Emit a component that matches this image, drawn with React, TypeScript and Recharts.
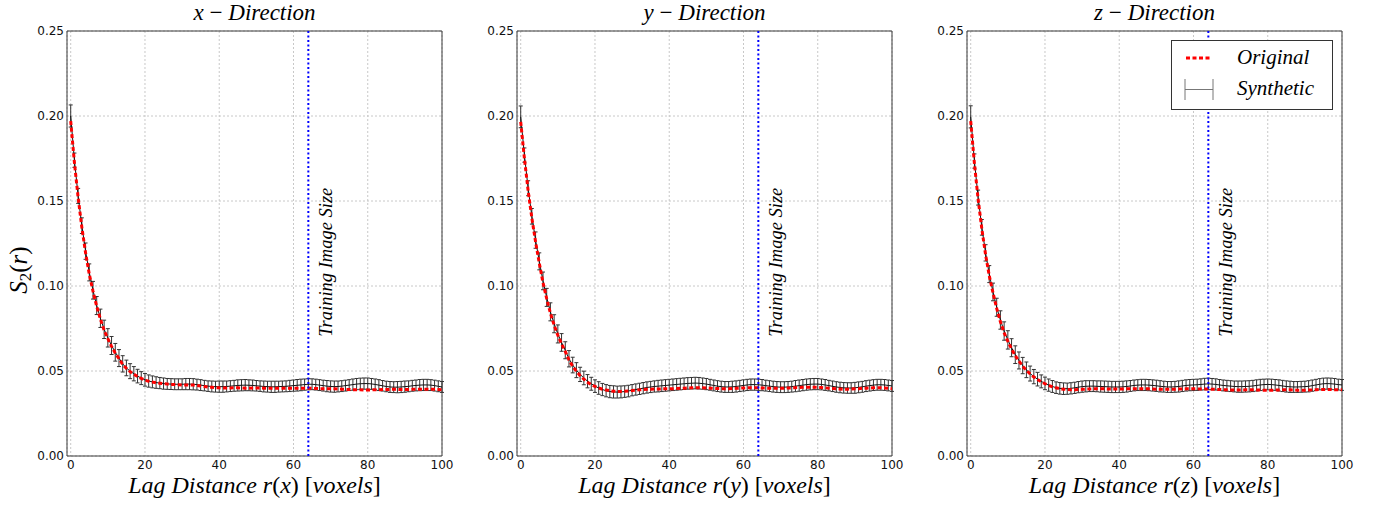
import React from "react";
import {
  CartesianGrid,
  ComposedChart,
  ErrorBar,
  Line,
  ReferenceArea,
  ReferenceLine,
  XAxis,
  YAxis
} from "recharts";

// lag distance r = 0..100 voxels
const lags: number[] = Array.from({ length: 101 }, (_, i) => i);
const xTicks = [0, 20, 40, 60, 80, 100];
const yTicks = [0, 0.05, 0.1, 0.15, 0.2, 0.25];
const trainingSize = 64;

// all S2 values below are in units of 1e-3
const origX = [
  197, 172.5, 152, 134.5, 119.5, 107, 97, 88, 80.5, 74,
  69, 64.5, 60.5, 57.3, 53.8, 51.5, 49.6, 48.1, 46.8, 45.6,
  44.6, 44.0, 43.5, 43.1, 42.8, 42.5, 42.3, 42.1, 42.0, 41.9,
  41.8, 41.8, 41.8, 41.7, 41.5, 41.2, 40.9, 40.6, 40.4, 40.2,
  40.1, 40.0, 40.0, 40.0, 40.1, 40.1, 40.0, 39.9, 39.9, 40.0,
  40.0, 40.0, 39.9, 39.8, 39.8, 39.8, 39.9, 39.9, 39.9, 39.8,
  39.8, 39.8, 39.8, 39.9, 39.9, 39.8, 39.7, 39.6, 39.6, 39.6,
  39.6, 39.5, 39.4, 39.3, 39.2, 39.1, 39.0, 38.9, 38.9, 38.8,
  38.8, 38.9, 39.0, 39.0, 39.1, 39.1, 39.2, 39.2, 39.2, 39.1,
  39.1, 39.1, 39.2, 39.2, 39.3, 39.3, 39.3, 39.2, 39.2, 39.1,
  39.0
];
const synX = [
  200, 174, 153, 135.5, 120.5, 108, 97.5, 88.5, 81, 74.5,
  69.5, 65, 61, 57.6, 54.2, 51.8, 49.9, 48.4, 47.0, 45.8,
  44.8, 44.1, 43.6, 43.2, 42.9, 42.6, 42.4, 42.3, 42.2, 42.2,
  42.2, 42.3, 42.3, 42.2, 42.0, 41.7, 41.4, 41.1, 40.9, 40.8,
  40.8, 40.8, 40.9, 41.1, 41.3, 41.5, 41.6, 41.7, 41.6, 41.5,
  41.3, 41.1, 40.9, 40.8, 40.7, 40.7, 40.8, 40.9, 41.0, 41.2,
  41.4, 41.6, 41.8, 42.0, 42.2, 42.2, 42.0, 41.7, 41.4, 41.1,
  40.9, 40.8, 40.9, 41.1, 41.4, 41.7, 42.0, 42.3, 42.5, 42.6,
  42.6, 42.4, 42.1, 41.7, 41.3, 40.9, 40.6, 40.5, 40.5, 40.6,
  40.8, 41.0, 41.3, 41.5, 41.7, 41.8, 41.8, 41.7, 41.4, 41.0,
  40.6
];
const errX = [
  6.5, 4.2, 4.4, 4.6, 4.8, 5.0, 5.2, 5.3, 5.4, 5.4,
  5.4, 5.3, 5.2, 5.0, 4.8, 4.6, 4.4, 4.2, 4.0, 3.8,
  3.7, 3.6, 3.5, 3.4, 3.3, 3.3, 3.2, 3.2, 3.2, 3.2,
  3.2, 3.3, 3.3, 3.3, 3.2, 3.2, 3.1, 3.1, 3.2, 3.2,
  3.3, 3.3, 3.2, 3.2, 3.2, 3.3, 3.3, 3.3, 3.2, 3.2,
  3.1, 3.1, 3.2, 3.2, 3.3, 3.3, 3.2, 3.2, 3.2, 3.3,
  3.3, 3.4, 3.4, 3.3, 3.3, 3.2, 3.2, 3.2, 3.2, 3.3,
  3.3, 3.3, 3.2, 3.2, 3.2, 3.2, 3.3, 3.3, 3.3, 3.3,
  3.3, 3.2, 3.2, 3.2, 3.1, 3.1, 3.2, 3.2, 3.3, 3.3,
  3.3, 3.2, 3.2, 3.2, 3.3, 3.3, 3.3, 3.2, 3.2, 3.2,
  3.2
];

const origY = [
  196.5, 175, 156, 140, 126, 113.5, 102, 92.5, 84, 77,
  71, 66, 61.5, 56.5, 52.8, 49.8, 47.3, 45.2, 43.4, 42.0,
  40.9, 40.0, 39.3, 38.8, 38.4, 38.1, 38.0, 38.0, 38.1, 38.3,
  38.5, 38.7, 38.9, 39.1, 39.2, 39.3, 39.4, 39.4, 39.5, 39.5,
  39.5, 39.6, 39.7, 39.8, 39.9, 40.0, 40.1, 40.2, 40.2, 40.1,
  40.0, 39.9, 39.8, 39.7, 39.6, 39.6, 39.6, 39.7, 39.8, 39.9,
  40.0, 40.1, 40.2, 40.2, 40.1, 40.0, 39.9, 39.8, 39.8, 39.8,
  39.8, 39.9, 40.0, 40.1, 40.2, 40.3, 40.4, 40.5, 40.5, 40.5,
  40.4, 40.3, 40.1, 39.9, 39.7, 39.5, 39.4, 39.3, 39.3, 39.4,
  39.5, 39.6, 39.8, 39.9, 40.0, 40.1, 40.1, 40.1, 40.0, 39.8,
  39.6
];
const synY = [
  199.5, 177, 157.5, 141, 127, 114.5, 103, 93.3, 84.8, 77.8,
  71.8, 66.8, 62.2, 57.2, 53.5, 50.5, 48.0, 45.9, 44.0, 42.5,
  41.1, 40.0, 39.1, 38.4, 37.9, 37.7, 37.6, 37.7, 37.9, 38.2,
  38.7, 39.1, 39.5, 39.9, 40.3, 40.6, 40.9, 41.1, 41.3, 41.5,
  41.7, 41.9, 42.1, 42.3, 42.5, 42.7, 42.8, 42.9, 42.8, 42.6,
  42.3, 41.9, 41.5, 41.1, 40.8, 40.6, 40.6, 40.7, 40.9, 41.2,
  41.5, 41.8, 42.0, 42.0, 41.9, 41.7, 41.4, 41.1, 40.8, 40.6,
  40.5, 40.5, 40.6, 40.8, 41.1, 41.4, 41.7, 42.0, 42.2, 42.3,
  42.3, 42.1, 41.8, 41.4, 41.0, 40.6, 40.3, 40.1, 40.0, 40.0,
  40.1, 40.4, 40.7, 41.1, 41.4, 41.7, 41.9, 41.9, 41.8, 41.5,
  41.2
];
const errY = [
  6.4, 4.2, 4.4, 4.6, 4.8, 5.0, 5.2, 5.3, 5.3, 5.3,
  5.3, 5.2, 5.0, 4.8, 4.6, 4.4, 4.2, 4.0, 3.9, 3.8,
  3.7, 3.7, 3.6, 3.6, 3.6, 3.6, 3.5, 3.5, 3.4, 3.4,
  3.3, 3.3, 3.3, 3.3, 3.3, 3.3, 3.3, 3.4, 3.4, 3.4,
  3.4, 3.4, 3.4, 3.4, 3.4, 3.4, 3.4, 3.4, 3.4, 3.3,
  3.3, 3.2, 3.2, 3.2, 3.2, 3.2, 3.2, 3.3, 3.3, 3.3,
  3.3, 3.3, 3.3, 3.3, 3.3, 3.3, 3.2, 3.2, 3.2, 3.2,
  3.2, 3.2, 3.2, 3.2, 3.3, 3.3, 3.3, 3.3, 3.3, 3.3,
  3.3, 3.2, 3.2, 3.1, 3.1, 3.1, 3.1, 3.1, 3.1, 3.1,
  3.2, 3.2, 3.2, 3.2, 3.2, 3.2, 3.2, 3.2, 3.2, 3.2,
  3.2
];

const origZ = [
  197, 172, 151, 133.5, 118.5, 106, 96, 86.8, 79, 72.5,
  67.5, 63, 59, 55.8, 52.8, 50.4, 48.3, 46.5, 45.0, 43.7,
  42.5, 41.5, 40.7, 40.1, 39.6, 39.3, 39.1, 39.0, 39.0, 39.1,
  39.2, 39.3, 39.4, 39.5, 39.5, 39.5, 39.5, 39.4, 39.4, 39.4,
  39.4, 39.4, 39.5, 39.5, 39.6, 39.6, 39.6, 39.5, 39.5, 39.4,
  39.3, 39.2, 39.2, 39.2, 39.3, 39.3, 39.4, 39.4, 39.5, 39.5,
  39.5, 39.5, 39.4, 39.4, 39.4, 39.3, 39.2, 39.1, 39.0, 38.9,
  38.8, 38.8, 38.8, 38.8, 38.9, 38.9, 38.9, 38.8, 38.8, 38.7,
  38.7, 38.7, 38.8, 38.8, 38.9, 38.9, 38.9, 38.8, 38.7, 38.7,
  38.7, 38.8, 38.9, 39.0, 39.1, 39.1, 39.1, 39.1, 39.0, 39.0,
  39.0
];
const synZ = [
  199.5, 173.5, 152, 134.5, 119.5, 107, 96.5, 87.5, 80, 73.5,
  68.3, 63.7, 59.6, 56.2, 53.2, 50.7, 48.5, 46.7, 45.2, 43.9,
  42.7, 41.7, 40.9, 40.2, 39.8, 39.6, 39.6, 39.8, 40.1, 40.5,
  40.8, 41.0, 41.1, 41.1, 41.0, 40.9, 40.8, 40.7, 40.6, 40.6,
  40.6, 40.7, 40.9, 41.2, 41.5, 41.7, 41.8, 41.8, 41.7, 41.5,
  41.3, 41.0, 40.8, 40.6, 40.6, 40.7, 40.9, 41.2, 41.5, 41.7,
  41.8, 41.9, 42.1, 42.3, 42.4, 42.3, 42.1, 41.8, 41.5, 41.3,
  41.1, 40.9, 40.8, 40.8, 40.9, 41.0, 41.2, 41.5, 41.8, 42.0,
  42.1, 42.0, 41.8, 41.5, 41.2, 40.9, 40.7, 40.6, 40.6, 40.7,
  40.8, 41.0, 41.4, 41.8, 42.2, 42.5, 42.6, 42.5, 42.3, 42.0,
  41.8
];
const errZ = [
  6.5, 4.2, 4.4, 4.6, 4.8, 5.0, 5.2, 5.3, 5.4, 5.4,
  5.4, 5.3, 5.2, 5.0, 4.8, 4.6, 4.4, 4.2, 4.0, 3.8,
  3.7, 3.6, 3.5, 3.4, 3.4, 3.4, 3.3, 3.3, 3.3, 3.3,
  3.3, 3.3, 3.2, 3.2, 3.2, 3.3, 3.3, 3.3, 3.3, 3.3,
  3.3, 3.3, 3.3, 3.2, 3.2, 3.2, 3.3, 3.3, 3.3, 3.3,
  3.3, 3.3, 3.2, 3.2, 3.2, 3.2, 3.3, 3.3, 3.3, 3.3,
  3.3, 3.3, 3.3, 3.4, 3.4, 3.3, 3.3, 3.2, 3.2, 3.2,
  3.2, 3.2, 3.3, 3.3, 3.3, 3.3, 3.3, 3.3, 3.3, 3.2,
  3.2, 3.2, 3.2, 3.3, 3.3, 3.3, 3.3, 3.2, 3.2, 3.2,
  3.2, 3.3, 3.3, 3.3, 3.3, 3.3, 3.3, 3.3, 3.3, 3.2,
  3.2
];

const panels = [
  { dir: "x", orig: origX, syn: synX, err: errX, left: 7 },
  { dir: "y", orig: origY, syn: synY, err: errY, left: 457 },
  { dir: "z", orig: origZ, syn: synZ, err: errZ, left: 907 }
];

const MATH = "'Liberation Serif', 'DejaVu Serif', serif";
const SANS = "'DejaVu Sans', sans-serif";
const PLOT_W = 375;
const Y_AXIS_W = 60;
const MARGIN = { top: 31, right: 16, bottom: 0, left: 0 };
const CHART_W = Y_AXIS_W + PLOT_W + MARGIN.right;
const CHART_H = 506;

function TrainingLabel(props: any): JSX.Element {
  const vb = props.viewBox ?? { x: 0, y: MARGIN.top, height: 425 };
  const cx = vb.x + 18;
  const cy = vb.y + vb.height * (1 - 0.114 / 0.25);
  return (
    <text
      x={cx}
      y={cy}
      transform={`rotate(-90, ${cx}, ${cy})`}
      textAnchor="middle"
      dominantBaseline="central"
      fontFamily={MATH}
      fontStyle="italic"
      fontSize={18.5}
      fill="#000"
    >
      Training Image Size
    </text>
  );
}

function Panel({ orig, syn, err, left }: { orig: number[]; syn: number[]; err: number[]; left: number }): JSX.Element {
  const rows = lags.map((r, i) => ({
    r,
    orig: orig[i] / 1000,
    syn: syn[i] / 1000,
    err: err[i] / 1000
  }));
  const tick = { fontSize: 12, fill: "#111", fontFamily: SANS };

  return (
    <div style={{ position: "absolute", left, top: 0 }}>
      <ComposedChart width={CHART_W} height={CHART_H} data={rows} margin={MARGIN}>
        <CartesianGrid stroke="#c8c8c8" strokeDasharray="2 2" />
        <XAxis
          type="number"
          dataKey="r"
          domain={[-1, 100]}
          ticks={xTicks}
          interval={0}
          allowDataOverflow
          height={50}
          tickSize={0}
          tickMargin={4}
          axisLine={false}
          tickLine={false}
          tick={tick}
        />
        <YAxis
          type="number"
          domain={[0, 0.25]}
          ticks={yTicks}
          interval={0}
          allowDataOverflow
          width={Y_AXIS_W}
          tickSize={0}
          tickMargin={3}
          axisLine={false}
          tickLine={false}
          tick={tick}
          tickFormatter={(v: number) => v.toFixed(2)}
        />
        <ReferenceArea x1={-1} x2={100} y1={0} y2={0.25} fill="none" stroke="#3a3a3a" strokeWidth={1} ifOverflow="visible" />
        <Line type="linear" dataKey="syn" stroke="#111" strokeWidth={1} dot={false} isAnimationActive={false}>
          <ErrorBar dataKey="err" direction="y" width={2} stroke="#333" strokeWidth={1} isAnimationActive={false} />
        </Line>
        <Line
          type="linear"
          dataKey="orig"
          stroke="#ff0000"
          strokeWidth={3}
          strokeDasharray="4 2.5"
          dot={false}
          isAnimationActive={false}
        />
        <ReferenceLine x={trainingSize} stroke="#0000ff" strokeWidth={2} strokeDasharray="2 2.5" label={<TrainingLabel />} />
      </ComposedChart>
    </div>
  );
}

export default function App(): JSX.Element {
  const plotCenters = panels.map(p => p.left + Y_AXIS_W + PLOT_W / 2);

  return (
    <div style={{ position: "absolute", left: 0, top: 0, width: 1380, height: 506, background: "#fff" }}>
      {panels.map(p => (
        <Panel key={p.dir} orig={p.orig} syn={p.syn} err={p.err} left={p.left} />
      ))}
      <svg width={1380} height={506} style={{ position: "absolute", left: 0, top: 0, pointerEvents: "none" }}>
        {panels.map((p, i) => (
          <g key={p.dir} fontFamily={MATH} fill="#000">
            <text x={plotCenters[i]} y={20} textAnchor="middle" fontSize={23} fontStyle="italic">
              {p.dir}{"\u2009\u2212\u2009"}Direction
            </text>
            <text x={plotCenters[i]} y={493} textAnchor="middle" fontSize={24}>
              <tspan fontStyle="italic">Lag Distance r</tspan>
              <tspan>(</tspan>
              <tspan fontStyle="italic">{p.dir}</tspan>
              <tspan>) [</tspan>
              <tspan fontStyle="italic">voxels</tspan>
              <tspan>]</tspan>
            </text>
          </g>
        ))}
        <text x={27} y={270} transform="rotate(-90, 27, 270)" textAnchor="middle" fontFamily={MATH} fontSize={25} fill="#000">
          <tspan fontStyle="italic">S</tspan>
          <tspan fontSize={17} dy={4}>2</tspan>
          <tspan dy={-4}>(</tspan>
          <tspan fontStyle="italic">r</tspan>
          <tspan>)</tspan>
        </text>
        <g>
          <rect x={1171.5} y={40.5} width={161} height={69} fill="#fff" stroke="#333" strokeWidth={1} />
          <line x1={1186} y1={58} x2={1212} y2={58} stroke="#ff0000" strokeWidth={3} strokeDasharray="4 2.5" />
          <text x={1237} y={64} fontFamily={MATH} fontStyle="italic" fontSize={21} fill="#000">Original</text>
          <line x1={1185} y1={89.5} x2={1213} y2={89.5} stroke="#777" strokeWidth={1} />
          <line x1={1185} y1={79} x2={1185} y2={100} stroke="#777" strokeWidth={1} />
          <line x1={1213} y1={79} x2={1213} y2={100} stroke="#777" strokeWidth={1} />
          <text x={1237} y={95} fontFamily={MATH} fontStyle="italic" fontSize={21} fill="#000">Synthetic</text>
        </g>
      </svg>
    </div>
  );
}
